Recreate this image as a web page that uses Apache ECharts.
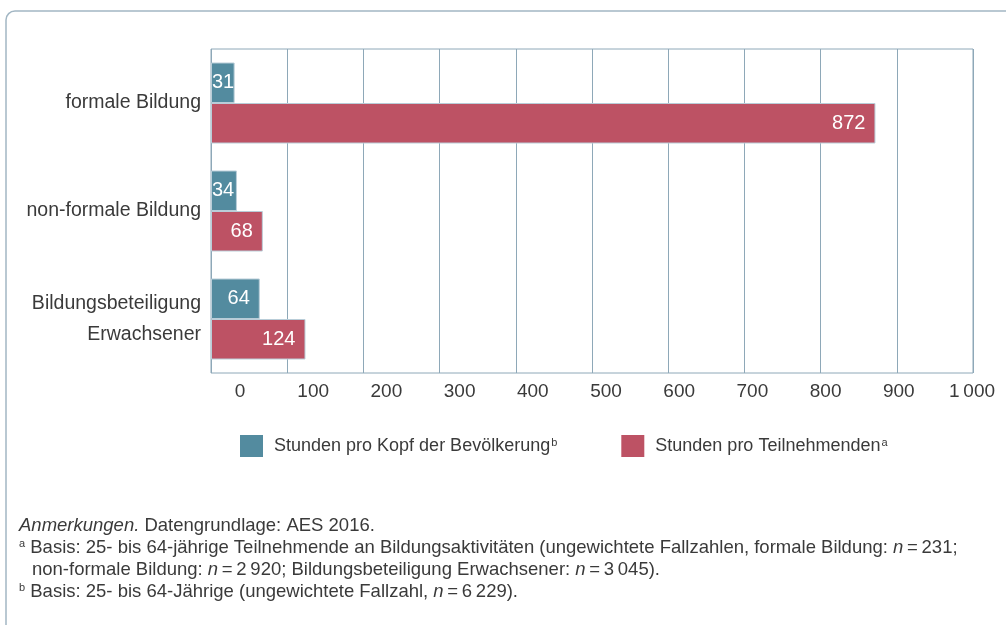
<!DOCTYPE html>
<html>
<head>
<meta charset="utf-8">
<script src="https://cdn.jsdelivr.net/npm/echarts@6/dist/echarts.min.js"></script>
<style>
	html, body { margin: 0; padding: 0; background: #fff; }
	#chart { width: 1006px; height: 625px; }
</style>
</head>
<body>
<div id="chart"></div>
<script>
// Daten
const categories = ["formale Bildung", "non-formale Bildung", "Bildungsbeteiligung\nErwachsener"];
const seriesNames = ["Stunden pro Kopf der Bevölkerung", "Stunden pro Teilnehmenden"];
const seriesSup = ["b", "a"];
const perHead = [31, 34, 64];
const perParticipant = [872, 68, 124];
const axisMin = 0;
const axisMax = 1000;
const axisStep = 100;

const FONT = "'Liberation Sans', Arial, sans-serif";
const TEXT = "#3a3a3a";
const LINE = "#8ea8b8";
const colors = ["#538b9f", "#bd5264"];

// Tausender mit schmalem Leerzeichen
const fmt = v => (v >= 1000 ? String(v).replace(/\B(?=(\d{3})+(?!\d))/g, "\u2009") : String(v));

const barData = arr =>
	arr.map(v => ({
		value: v,
		label: v < 40 ? { position: "insideLeft", distance: 1 } : { position: "insideRight", distance: 10 }
	}));

const chart = echarts.init(document.getElementById("chart"));
const option = {
	backgroundColor: "#fff",
	animation: false,
	textStyle: { fontFamily: FONT },
	grid: [
		{ left: 211, top: 49, width: 762, height: 324, show: true, borderColor: LINE, borderWidth: 1, outerBoundsMode: "none", containLabel: false },
		// nur für die (im Original verschobenen) Achsenbeschriftungen
		{ left: 240, top: 49, width: 732, height: 324, show: false, outerBoundsMode: "none", containLabel: false }
	],
	xAxis: [
		{
			type: "value",
			gridIndex: 0,
			min: axisMin,
			max: axisMax,
			interval: axisStep,
			axisLine: { show: false },
			axisTick: { show: false },
			axisLabel: { show: false },
			splitLine: { show: true, lineStyle: { color: LINE, width: 1 } }
		},
		{
			type: "value",
			gridIndex: 1,
			min: axisMin,
			max: axisMax,
			interval: axisStep,
			axisLine: { show: false },
			axisTick: { show: false },
			splitLine: { show: false },
			axisLabel: { show: true, margin: 9, fontSize: 19, color: TEXT, fontFamily: FONT, formatter: fmt, hideOverlap: false }
		}
	],
	yAxis: [
		{
			type: "category",
			gridIndex: 0,
			inverse: true,
			data: categories,
			axisLine: { show: false },
			axisTick: { show: false },
			axisLabel: { margin: 10, fontSize: 19.5, lineHeight: 31, color: TEXT, fontFamily: FONT, align: "right" }
		},
		{ type: "value", gridIndex: 1, show: false, min: 0, max: 1 }
	],
	legend: {
		left: 240,
		top: 435,
		padding: 0,
		icon: "rect",
		itemWidth: 23,
		itemHeight: 22,
		itemGap: 64,
		itemStyle: { borderWidth: 0 },
		data: seriesNames,
		formatter: name => name + "{sup|" + seriesSup[seriesNames.indexOf(name)] + "}",
		textStyle: {
			fontFamily: FONT,
			fontSize: 18,
			color: TEXT,
			padding: [0, 0, 0, 6],
			rich: {
				sup: { fontSize: 11, fontFamily: FONT, color: TEXT, verticalAlign: "top", padding: [0, 0, 7, 1] }
			}
		}
	},
	series: [
		{
			name: seriesNames[0],
			type: "bar",
			barWidth: 40.5,
			barGap: "0%",
			itemStyle: { color: colors[0], borderColor: "#b9cdd8", borderWidth: 1 },
			label: { show: true, color: "#fff", fontSize: 20, fontFamily: FONT },
			data: barData(perHead)
		},
		{
			name: seriesNames[1],
			type: "bar",
			barWidth: 40.5,
			barGap: "0%",
			itemStyle: { color: colors[1], borderColor: "#b9cdd8", borderWidth: 1 },
			label: { show: true, color: "#fff", fontSize: 20, fontFamily: FONT },
			data: barData(perParticipant)
		}
	],
	graphic: [
		{
			type: "rect",
			silent: true,
			shape: { x: 6, y: 11, width: 1030, height: 650, r: [9, 0, 0, 0] },
			style: { fill: "none", stroke: "#a3b7c4", lineWidth: 1.5 }
		},
		{
			type: "text",
			left: 19,
			top: 516,
			style: {
				text: "{i|Anmerkungen.} Datengrundlage: AES 2016.",
				font: "18.5px " + FONT,
				fill: TEXT,
				rich: { i: { fontStyle: "italic", fontSize: 18.5, fontFamily: FONT, fill: TEXT } }
			}
		},
		{
			type: "text",
			left: 19,
			top: 538,
			style: {
				text:
					"{s|a} Basis: 25- bis 64-jährige Teilnehmende an Bildungsaktivitäten (ungewichtete Fallzahlen, formale Bildung: {i|n}\u2009=\u2009231;",
				font: "18.5px " + FONT,
				fill: TEXT,
				rich: {
					i: { fontStyle: "italic", fontSize: 18.5, fontFamily: FONT, fill: TEXT },
					s: { fontSize: 11, fontFamily: FONT, fill: TEXT, verticalAlign: "top", padding: [0, 0, 8, 0] }
				}
			}
		},
		{
			type: "text",
			left: 32,
			top: 560,
			style: {
				text: "non-formale Bildung: {i|n}\u2009=\u20092\u2009920; Bildungsbeteiligung Erwachsener: {i|n}\u2009=\u20093\u2009045).",
				font: "18.5px " + FONT,
				fill: TEXT,
				rich: { i: { fontStyle: "italic", fontSize: 18.5, fontFamily: FONT, fill: TEXT } }
			}
		},
		{
			type: "text",
			left: 19,
			top: 582,
			style: {
				text: "{s|b} Basis: 25- bis 64-Jährige (ungewichtete Fallzahl, {i|n}\u2009=\u20096\u2009229).",
				font: "18.5px " + FONT,
				fill: TEXT,
				rich: {
					i: { fontStyle: "italic", fontSize: 18.5, fontFamily: FONT, fill: TEXT },
					s: { fontSize: 11, fontFamily: FONT, fill: TEXT, verticalAlign: "top", padding: [0, 0, 8, 0] }
				}
			}
		}
	]
};
chart.setOption(option);
</script>
</body>
</html>
